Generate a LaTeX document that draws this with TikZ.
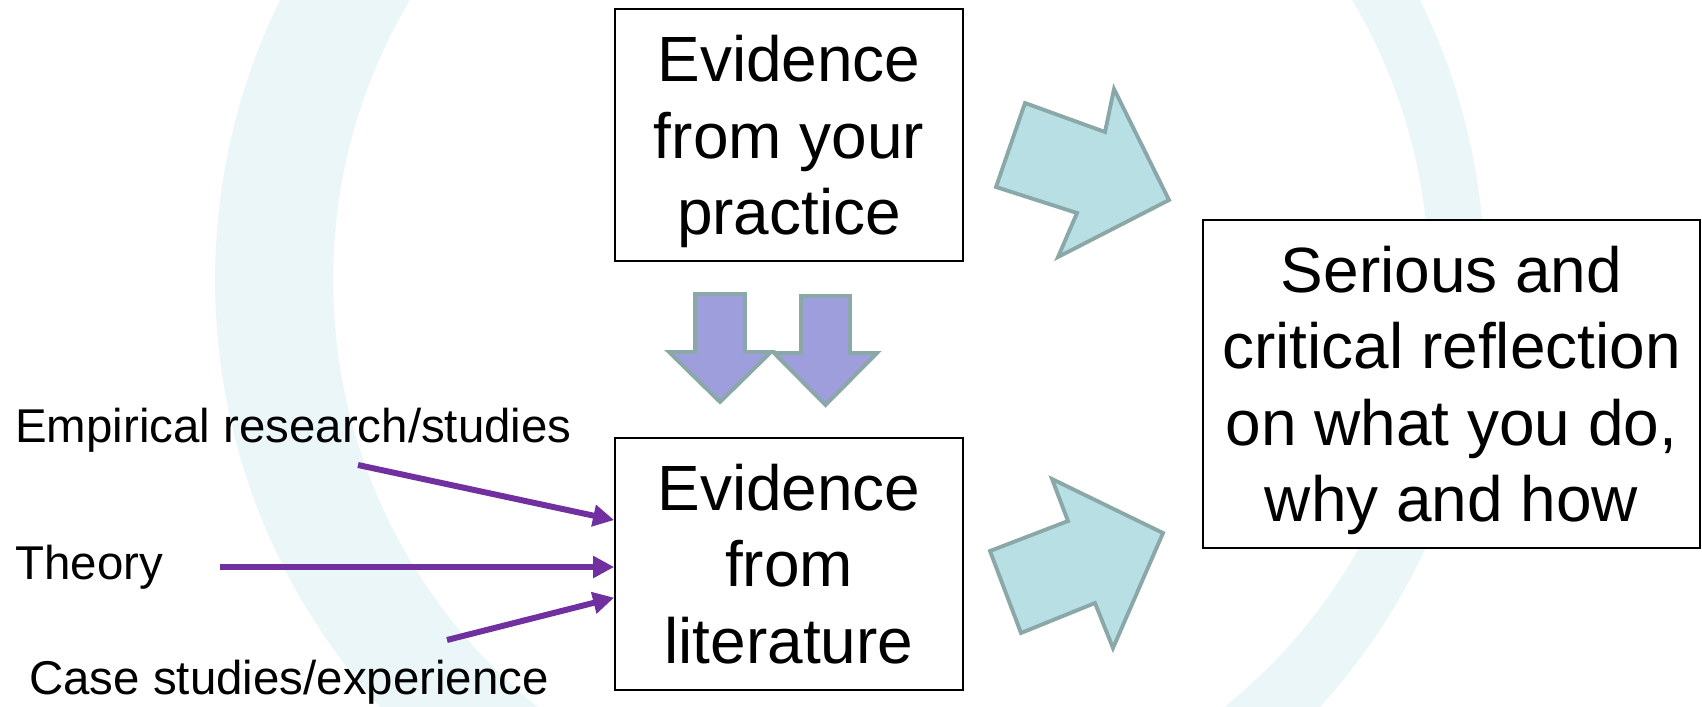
\documentclass[tikz,border=0pt]{standalone}
\usepackage{fontspec}
\setmainfont{Liberation Sans}
\usetikzlibrary{arrows.meta, positioning}

\definecolor{ringblue}{HTML}{EBF6F9}
\definecolor{tealfill}{HTML}{B8E0E4}
\definecolor{arrowedge}{HTML}{8BA8A8}
\definecolor{lavender}{HTML}{9E9EDC}
\definecolor{linkpurple}{HTML}{7030A0}

\tikzset{
  box/.style={draw=black, line width=1pt, fill=white, inner sep=0pt, align=center,
    text depth=0pt, font=\fontsize{36.4}{43.5}\selectfont},
  source/.style={anchor=base west, inner sep=0pt, font=\fontsize{27}{32}\selectfont},
  feed/.style={draw=linkpurple, line width=3.4pt, -{Triangle[length=12pt,width=12pt]}},
  bigarrow/.style={draw=arrowedge, line width=2.2pt, fill=tealfill},
  downarrow/.style={draw=arrowedge, line width=2.2pt, fill=lavender}
}

\begin{document}
\begin{tikzpicture}[x=0.02cm, y=-0.02cm]
\useasboundingbox (0,0) rectangle (1702,706);

% pale ring behind everything
\begin{scope}
\clip (0,0) rectangle (1702,706);
\fill[ringblue, even odd rule] (850,280) circle[radius=12.7cm] (881,280) circle[radius=10.96cm];
\end{scope}

% Evidence boxes
\node[box, minimum width=6.96cm, minimum height=5.04cm] (prac) at (789,135) {Evidence\\from your\\practice};
\node[box, minimum width=6.96cm, minimum height=5.04cm, below=3.5cm of prac] (lit) {Evidence\\from\\literature};

% Reflection box
\node[box, minimum width=9.94cm, minimum height=6.56cm] (refl) at (1451.5,384) {Serious and\\critical reflection\\on what you do,\\why and how};

% Down arrows between the evidence boxes
\draw[downarrow] (695,294) -- (745,294) -- (745,352) -- (771,352) -- (720,402) -- (669,352) -- (695,352) -- cycle;
\draw[downarrow] (801,296) -- (850,296) -- (850,353) -- (877,353) -- (825.5,405) -- (774,353) -- (801,353) -- cycle;

% Block arrows towards the reflection
\draw[bigarrow] (1025,103) -- (1105,132) -- (1114,89) -- (1169,200) -- (1058,257) -- (1077,213) -- (996,187) -- cycle;
\draw[bigarrow] (990,551) -- (1068,521) -- (1052,479) -- (1163,533) -- (1113,648) -- (1095,603) -- (1021,633) -- cycle;

% Sources of the literature
\node[source] (emp) at (15,442) {Empirical research/studies};
\node[source] (theo) at (15,579) {Theory};
\node[source] (case) at (29,694) {Case studies/experience};

\coordinate (empS) at (358,465);
\coordinate (theoS) at (220,567);
\coordinate (caseS) at (447,640);

\draw[feed] (empS) -- (lit.166);
\draw[feed] (theoS) -- (theoS -| lit.west);
\draw[feed] (caseS) -- (lit.191);
\end{tikzpicture}
\end{document}
